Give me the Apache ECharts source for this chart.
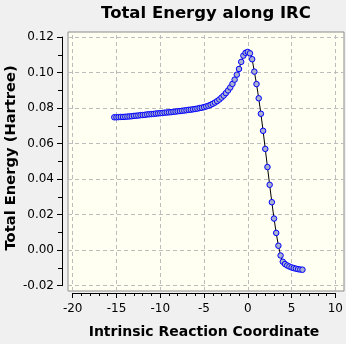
<!DOCTYPE html>
<html><head><meta charset="utf-8">
<script src="https://cdn.jsdelivr.net/npm/echarts@6/dist/echarts.min.js"></script>
<style>html,body{margin:0;padding:0;background:#f0f0f0}#c{width:346px;height:344px}</style>
</head><body><div id="c"></div>
<script>
// Chart text
const chartTitle = 'Total Energy along IRC';
const xTitle = 'Intrinsic Reaction Coordinate';
const yTitle = 'Total Energy (Hartree)';

// IRC points (reaction coordinate)
const ircCoord = [
  -15.25,-15.0,-14.75,-14.5,-14.25,-14.0,-13.75,-13.5,-13.25,-13.0,
  -12.75,-12.5,-12.25,-12.0,-11.75,-11.5,-11.25,-11.0,-10.75,-10.5,
  -10.25,-10.0,-9.75,-9.5,-9.25,-9.0,-8.75,-8.5,-8.25,-8.0,
  -7.75,-7.5,-7.25,-7.0,-6.75,-6.5,-6.25,-6.0,-5.75,-5.5,
  -5.25,-5.0,-4.75,-4.5,-4.25,-4.0,-3.75,-3.5,-3.25,-3.0,
  -2.75,-2.5,-2.25,-2.0,-1.75,-1.5,-1.25,-1.0,-0.75,-0.5,
  -0.25,0.0,0.25,0.5,0.75,1.0,1.25,1.5,1.75,2.0,
  2.25,2.5,2.75,3.0,3.25,3.5,3.75,4.0,4.25,4.5,
  4.75,5.0,5.25,5.5,5.75,6.0,6.25
];
// Total energy (Hartree)
const totalEnergy = [
  0.0748,0.0748,0.0749,0.0750,0.0750,0.0751,0.0752,0.0753,0.0754,0.0756,
  0.0757,0.0758,0.0760,0.0761,0.0762,0.0764,0.0765,0.0766,0.0767,0.0769,
  0.0770,0.0771,0.0772,0.0774,0.0775,0.0776,0.0777,0.0779,0.0780,0.0782,
  0.0783,0.0785,0.0786,0.0788,0.0790,0.0791,0.0793,0.0795,0.0797,0.0800,
  0.0802,0.0805,0.0809,0.0813,0.0818,0.0824,0.0831,0.0839,0.0848,0.0859,
  0.0870,0.0884,0.0899,0.0916,0.0936,0.0960,0.0988,0.1020,0.1060,0.1095,
  0.1111,0.1116,0.1108,0.1075,0.1005,0.0935,0.0855,0.0768,0.0672,0.0570,
  0.0468,0.0368,0.0270,0.0178,0.0097,0.0025,-0.0030,-0.0065,-0.0078,-0.0086,
  -0.0092,-0.0097,-0.0101,-0.0104,-0.0107,-0.0109,-0.0110
];
// Tick labels
const xTicks = [-20,-15,-10,-5,0,5,10];
const yTicks = [-0.02,0.00,0.02,0.04,0.06,0.08,0.10,0.12];

// Layout geometry (pixels)
const TL = 72.7, TR = 335.3, TT = 37, TB = 285.7;   // tick-range area
const BL = 68, BR = 344, BT = 32, BB = 291;          // plot box
const XLINE = 295.5, YLINE = 62;                    // detached axis lines
const xMin = xTicks[0], xMax = xTicks[xTicks.length-1];
const yMin = yTicks[0], yMax = yTicks[yTicks.length-1];
const xPpu = (TR-TL)/(xMax-xMin), yPpu = (TB-TT)/(yMax-yMin);
const boxXMin = xMin-(TL-BL)/xPpu, boxXMax = xMax+(BR-TR)/xPpu;
const boxYMin = yMin-(BB-TB)/yPpu, boxYMax = yMax+(TT-BT)/yPpu;

const FONT = 'DejaVu Sans';
const BLACK = {color:'#000', width:1};
const chart = echarts.init(document.getElementById('c'), null, {renderer:'canvas'});
chart.setOption({
  animation:false,
  backgroundColor:'#f0f0f0',
  graphic:[{type:'text', x:(BL+BR)/2, y:14, z:10,
    style:{text:chartTitle, align:'center', verticalAlign:'middle',
      font:'bold 16.5px "DejaVu Sans"', fill:'#000'}}],
  grid:[
    {left:BL, top:BT, width:BR-BL, height:BB-BT, show:true,
     backgroundColor:'#fffff2', borderColor:'#8c8c8c', borderWidth:1},
    {left:TL, top:TT, width:TR-TL, height:TB-TT},
    {left:TL, top:TT, width:TR-TL, height:XLINE-TT},
    {left:YLINE, top:TT, width:20, height:TB-TT}
  ],
  xAxis:[
    {gridIndex:0, type:'value', min:boxXMin, max:boxXMax, show:false},
    {gridIndex:1, type:'value', min:xMin, max:xMax, show:false},
    {gridIndex:2, type:'value', min:xMin, max:xMax, interval:5, position:'bottom',
     axisLine:{show:true, onZero:false, lineStyle:BLACK},
     axisTick:{show:true, length:5, lineStyle:BLACK},
     minorTick:{show:true, splitNumber:5, length:3, lineStyle:BLACK},
     splitLine:{show:false},
     axisLabel:{margin:10, fontFamily:FONT, fontSize:12, color:'#000'},
     name:xTitle, nameLocation:'middle', nameGap:32,
     nameTextStyle:{fontFamily:FONT, fontWeight:'bold', fontSize:14, color:'#000'}},
    {gridIndex:3, type:'value', min:0, max:1, show:false}
  ],
  yAxis:[
    {gridIndex:0, type:'value', min:boxYMin, max:boxYMax, show:false},
    {gridIndex:1, type:'value', min:yMin, max:yMax, show:false},
    {gridIndex:2, type:'value', min:0, max:1, show:false},
    {gridIndex:3, type:'value', min:yMin, max:yMax, interval:0.02, position:'left',
     axisLine:{show:true, onZero:false, lineStyle:BLACK},
     axisTick:{show:true, length:5, lineStyle:BLACK},
     minorTick:{show:true, splitNumber:2, length:4, lineStyle:BLACK},
     splitLine:{show:false},
     axisLabel:{margin:8, fontFamily:FONT, fontSize:12, color:'#000',
       formatter:v=>Math.abs(v)<1e-9?'0.00':v.toFixed(2)},
     name:yTitle, nameLocation:'middle', nameGap:42,
     nameTextStyle:{fontFamily:FONT, fontWeight:'bold', fontSize:14.7, color:'#000',
       padding:[0,0,0,7]}}
  ],
  series:[
    {type:'line', xAxisIndex:0, yAxisIndex:0, data:[], silent:true,
     markLine:{silent:true, symbol:['none','none'], label:{show:false}, animation:false,
       lineStyle:{type:[4,3], color:'#bdbdbd', width:1},
       data: xTicks.map(v=>({xAxis:v})).concat(yTicks.map(v=>({yAxis:v})))}},
    {type:'line', xAxisIndex:1, yAxisIndex:1, z:5,
     data: ircCoord.map((x,i)=>[x,totalEnergy[i]]),
     symbol:'circle', symbolSize:5.5, showSymbol:true, showAllSymbol:true,
     lineStyle:{color:'#000', width:1},
     itemStyle:{color:'#a9b1cf', borderColor:'#0000ff', borderWidth:1}}
  ]
});
</script></body></html>
